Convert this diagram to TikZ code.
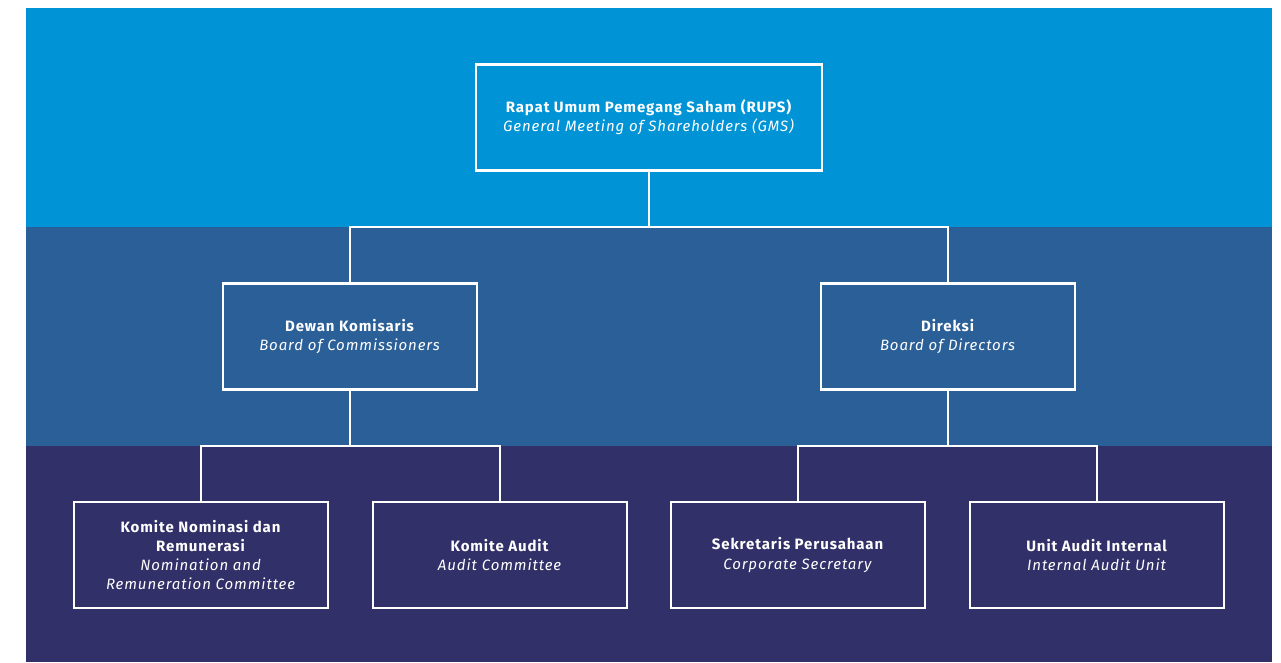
\documentclass[tikz,border=0pt]{standalone}
\usepackage{fontspec}
\setmainfont{Fira Sans}[LetterSpace=6]
\begin{document}
\begin{tikzpicture}[x=1pt,y=-1pt,
  orgbox/.style={draw=white,line width=2.2pt,minimum width=254pt,minimum height=106pt,
    align=center,text=white,font=\fontsize{15}{19.2}\selectfont,inner sep=0pt},
  link/.style={draw=white,line width=2.2pt}]
\definecolor{bandtop}{HTML}{0093D6}
\definecolor{bandmid}{HTML}{2B5F97}
\definecolor{bandlow}{HTML}{323068}
\useasboundingbox (0,0) rectangle (1281,662);
\fill[white] (0,0) rectangle (1281,662);
\fill[bandtop] (26,8) rectangle (1272,227);
\fill[bandmid] (26,227) rectangle (1272,446);
\fill[bandlow] (26,446) rectangle (1272,662);
\node[orgbox,minimum width=346pt,minimum height=106pt] (rups) at (649,117.5)
  {\textbf{Rapat Umum Pemegang Saham (RUPS)}\\\textit{General Meeting of Shareholders (GMS)}};
\node[orgbox] (dk) at (350,336.5) {\textbf{Dewan Komisaris}\\\textit{Board of Commissioners}};
\node[orgbox] (dir) at (948,336.5) {\textbf{Direksi}\\\textit{Board of Directors}};
\node[orgbox] (knr) at (201,555) {\textbf{Komite Nominasi dan}\\\textbf{Remunerasi}\\\textit{Nomination and}\\\textit{Remuneration Committee}};
\node[orgbox] (ka) at (500,555) {\textbf{Komite Audit}\\\textit{Audit Committee}};
\node[orgbox] (sp) at (798,555) {\textbf{Sekretaris Perusahaan}\\\textit{Corporate Secretary}};
\node[orgbox] (uai) at (1097,555) {\textbf{Unit Audit Internal}\\\textit{Internal Audit Unit}};
\coordinate (j1) at (649,227);
\coordinate (j2) at (350,446);
\coordinate (j3) at (948,446);
\draw[link] (rups.south) -- (j1);
\draw[link] (dk.north) |- (j1) -| (dir.north);
\draw[link] (dk.south) -- (j2);
\draw[link] (knr.north) |- (j2) -| (ka.north);
\draw[link] (dir.south) -- (j3);
\draw[link] (sp.north) |- (j3) -| (uai.north);
\end{tikzpicture}
\end{document}
